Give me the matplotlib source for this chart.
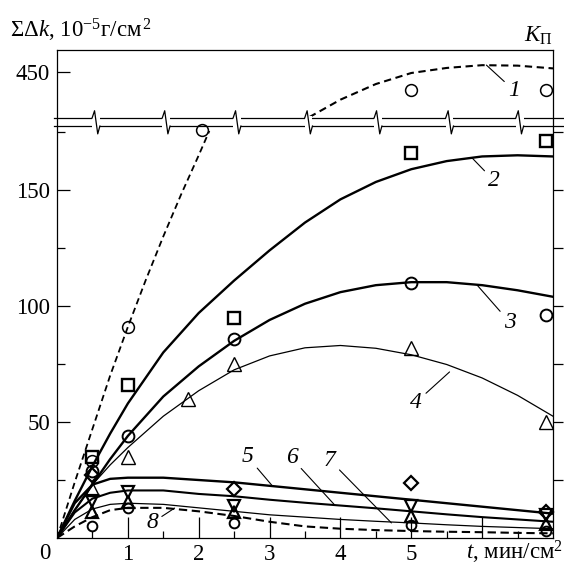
import numpy as np
import matplotlib
matplotlib.use('Agg')
import matplotlib.pyplot as plt
import matplotlib.transforms as mtransforms
from matplotlib.patches import Rectangle

plt.rcParams['font.family'] = ['Liberation Serif', 'DejaVu Serif']
plt.rcParams['mathtext.fontset'] = 'custom'
plt.rcParams['mathtext.rm'] = 'Liberation Serif'
plt.rcParams['mathtext.it'] = 'Liberation Serif:italic'

FS = 16.5

# fitted curves
t_fit = [0, 0.25, 0.5, 0.75, 1, 1.5, 2, 2.5, 3, 3.5, 4, 4.5, 5, 5.5, 6, 6.5, 7]
c2_fit = [0, 16, 31, 45, 58, 80, 97, 111, 124, 136, 146, 153.5, 159, 162.5, 164.5, 165, 164.5]
c3_fit = [0, 12, 23, 34, 44, 61, 74, 85, 94, 101, 106, 109, 110.3, 110.3, 109, 106.8, 104]
c4_fit = [0, 12, 23, 31.5, 39, 52.5, 63.5, 72.5, 78.5, 82, 83, 81.8, 79, 74.8, 69, 61.5, 52.5]
c5_fit = [0, 15, 23, 25.5, 26, 26, 25, 24, 22.5, 21, 19.5, 18, 16.5, 15, 13.5, 12, 10.5]
c6_fit = [0, 11, 17, 19.5, 20.5, 20.5, 19, 18, 16.5, 15.2, 14, 12.8, 11.5, 10.2, 9, 8, 7]
c7_fit = [0, 8, 12.5, 14.5, 15, 14.5, 13, 11.5, 10, 9, 8, 7.2, 6.5, 5.7, 5, 4.5, 4]
c8_fit = [0, 5, 9, 12, 13, 13, 11.5, 9.5, 7, 5, 4, 3.4, 3, 2.7, 2.5, 2.2, 2]

c1_lo_t = [0, 0.25, 0.5, 0.75, 1, 1.25, 1.5, 1.75, 2, 2.15]
c1_lo = [0, 24, 47, 70, 91, 111, 130, 148, 165, 175.5]
c1_hi_t = [3.56, 4.0, 4.5, 5.0, 5.5, 6.0, 6.5, 7.0]
c1_hi = [401, 420, 437, 449, 454.5, 457.5, 457, 454]

# measured points
t_pts = [0.5, 1, 2.5, 5, 6.9]
c1_pts_t = [0.5, 1, 2.05, 5, 6.9]
c1_pts = [33, 91, 176, 430, 430]
c2_pts = [35, 66, 95, 166, 171]
c3_pts = [29, 44, 86, 110, 96]
c4_pts_t = [0.5, 1, 1.85, 2.5, 5, 6.9]
c4_pts = [21, 35, 60, 75, 82, 50]
c5_pts_t = [0.5, 2.5, 5, 6.9]
c5_pts = [27, 21, 23.5, 11]
c6_pts = [16, 20, 14, 14, 10]
c7_pts = [11, 15.5, 11, 9.5, 6]
c8_pts = [5, 13, 6.5, 5.5, 3]

# broken y axis: 0..177.6 below the break, 400..474 above it
BREAK_LO, BREAK_HI, Y_TOP = 177.6, 400.0, 474.0


def fwd(v):
    v = np.asarray(v, float)
    return np.where(v <= BREAK_LO, v * 412 / BREAK_LO,
                    np.where(v <= BREAK_HI, 412 + (v - BREAK_LO) * 8 / (BREAK_HI - BREAK_LO),
                             420 + (v - BREAK_HI) * 0.92))


def inv(d):
    d = np.asarray(d, float)
    return np.where(d <= 412, d * BREAK_LO / 412,
                    np.where(d <= 420, BREAK_LO + (d - 412) * (BREAK_HI - BREAK_LO) / 8,
                             BREAK_HI + (d - 420) / 0.92))


fig = plt.figure(figsize=(5.64, 5.65), dpi=100)
ax = fig.add_axes([57 / 564, 1 - 538 / 565, 496 / 564, 488 / 565])
ax.set_yscale('function', functions=(fwd, inv))
ax.set_xlim(0, 7)
ax.set_ylim(0, Y_TOP)

for s in ax.spines.values():
    s.set_linewidth(0.9)

thick, thin = 1.7, 0.9
ax.plot(c1_lo_t, c1_lo, color='k', lw=1.3, dashes=(3.5, 2.2))
ax.plot(c1_hi_t, c1_hi, color='k', lw=1.5, dashes=(3.5, 2.2))
ax.plot(t_fit, c2_fit, color='k', lw=thick)
ax.plot(t_fit, c3_fit, color='k', lw=thick)
ax.plot(t_fit, c4_fit, color='k', lw=thin)
ax.plot(t_fit, c5_fit, color='k', lw=thick)
ax.plot(t_fit, c6_fit, color='k', lw=1.5)
ax.plot(t_fit, c7_fit, color='k', lw=thin)
ax.plot(t_fit, c8_fit, color='k', lw=1.5, dashes=(4, 2.2))

mk = dict(color='k', ls='none', mfc='none', mec='k', clip_on=False)
ax.plot(c1_pts_t, c1_pts, marker='o', ms=8.5, mew=1.1, **mk)
ax.plot(t_pts, c2_pts, marker='s', ms=8.5, mew=1.7, **mk)
ax.plot(t_pts, c3_pts, marker='o', ms=8.5, mew=1.4, **mk)
ax.plot(c4_pts_t, c4_pts, marker='^', ms=10, mew=1.0, **mk)
ax.plot(c5_pts_t, c5_pts, marker='D', ms=7.5, mew=1.6, **mk)
ax.plot(t_pts, c6_pts, marker='v', ms=8, mew=1.6, **mk)
ax.plot(t_pts, c7_pts, marker='^', ms=8, mew=1.6, **mk)
ax.plot(t_pts, c8_pts, marker='o', ms=7, mew=1.4, **mk)

# curve numbers with leader lines
labels = [('1', (6.06, 457.6), (6.45, 430)),
          ('2', (5.86, 163.8), (6.17, 154)),
          ('3', (5.93, 109), (6.39, 93)),
          ('4', (5.54, 71.6), (5.07, 58.6)),
          ('5', (3.03, 22.8), (2.69, 35)),
          ('6', (3.92, 14.2), (3.31, 34.5)),
          ('7', (4.72, 6.5), (3.85, 33.6)),
          ('8', (1.66, 12.9), (1.34, 6.5))]
for txt, xy, xyt in labels:
    ax.annotate(txt, xy=xy, xytext=xyt, fontsize=17, style='italic',
                ha='center', va='center',
                arrowprops=dict(arrowstyle='-', lw=0.8, color='k', shrinkA=1, shrinkB=0))

# ticks
ax.set_xticks([1, 2, 3, 4, 5, 6])
ax.set_xticklabels(['1', '2', '3', '4', '5', ''])
ax.set_xticks(np.arange(0.5, 7, 1.0), minor=True)
ax.set_yticks([50, 100, 150, 450])
ax.set_yticklabels(['50', '100', '150', '450'])
ax.set_yticks([25, 75, 125, 175], minor=True)
ax.yaxis.set_minor_formatter(plt.NullFormatter())
ax.tick_params(axis='both', which='both', direction='in', labelsize=FS, width=0.9,
               right=False, top=False)
ax.tick_params(axis='x', which='major', length=15, pad=4)
ax.tick_params(axis='x', which='minor', length=5)
ax.tick_params(axis='y', which='major', length=9.4, pad=5)
ax.tick_params(axis='y', which='minor', length=5.8)
ax.yaxis.get_major_ticks()[3].tick1line.set_visible(False)
ax.annotate('0', xy=(0, 0), xytext=(-9, -11), textcoords='offset points',
            fontsize=FS, ha='center', va='center')

# right axis (K_П): outward ticks, no labels
ax2 = ax.twinx()
ax2.set_yscale('function', functions=(fwd, inv))
ax2.set_ylim(0, Y_TOP)
ax2.set_yticks([25, 50, 75, 100, 125, 150, 175])
ax2.set_yticklabels([])
ax2.tick_params(axis='y', direction='out', length=7.2, width=0.9)
for s in ax2.spines.values():
    s.set_visible(False)

# axis break: double line with zigzags
trans = mtransforms.blended_transform_factory(ax.transData, ax.transAxes)
y_lo = float(fwd(BREAK_LO) / fwd(Y_TOP))
y_hi = float(fwd(BREAK_HI) / fwd(Y_TOP))
for yy in (y_lo, y_hi):
    ax.plot([-0.04, 7.15], [yy, yy], color='k', lw=0.9, transform=trans, clip_on=False)
for x0 in [0.55, 1.54, 2.54, 3.55, 4.53, 5.54, 6.53]:
    ax.add_patch(Rectangle((x0 - 0.055, y_lo - 0.004), 0.11, y_hi - y_lo + 0.008,
                           transform=trans, facecolor='white', edgecolor='none',
                           clip_on=False, zorder=4))
    ax.plot([x0 - 0.055, x0 - 0.02, x0 + 0.025, x0 + 0.055],
            [y_hi, y_hi + 0.015, y_lo - 0.016, y_lo],
            color='k', lw=0.9, transform=trans, clip_on=False, zorder=5)

fig.text(10 / 564, 1 - 38 / 565, r'ΣΔ$k$, 10$^{-5}$г/см$^{\,2}$', fontsize=FS,
         ha='left', va='baseline')
fig.text(553 / 564, 1 - 42 / 565, r'$K_{\mathrm{П}}$', fontsize=FS,
         ha='right', va='baseline')
fig.text(0.999, 1 - 560 / 565, r'$t$, мин/см$^2$', fontsize=FS,
         ha='right', va='baseline')

fig.savefig('out.png', dpi=100)
